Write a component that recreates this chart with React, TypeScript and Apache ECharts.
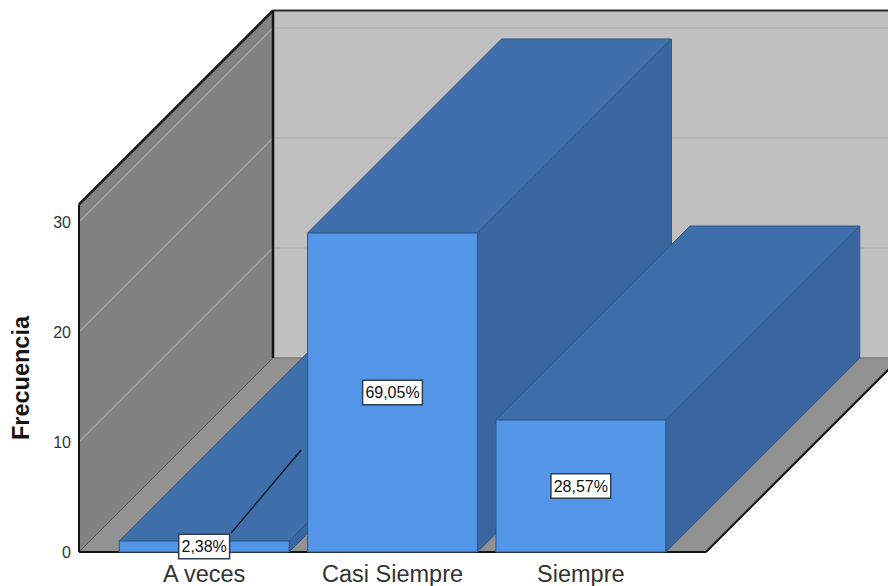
import React, { useEffect, useRef } from "react";
import * as echarts from "echarts";

const categories = ["A veces", "Casi Siempre", "Siempre"];
const frequencies = [1, 29, 12];
const percentLabels = ["2,38%", "69,05%", "28,57%"];
const gridValues = [10, 20, 30];
const wallTopValue = 31.6;

const DEPTH = 194;
const FLOOR_OVERHANG = 31;
const FONT = '"Liberation Sans", Arial, sans-serif';
const INK = "#141414";

const COLORS = {
  backWall: "#c0c0c0",
  sideWall: "#828282",
  floor: "#929292",
  front: "#5395e6",
  top: "#3e6fab",
  side: "#39669e",
  edge: "#2f5787",
};

const line = (a: number[], b: number[], stroke: string, lineWidth: number) => ({
  type: "line",
  silent: true,
  shape: { x1: a[0], y1: a[1], x2: b[0], y2: b[1] },
  style: { stroke, lineWidth, fill: "none" },
});

const poly = (points: number[][], fill: string, stroke = "none", lineWidth = 0) => ({
  type: "polygon",
  silent: true,
  shape: { points },
  style: { fill, stroke, lineWidth },
});

const back = (p: number[]) => [p[0] + DEPTH, p[1] - DEPTH];

// Walls, floor and gridlines of the box that holds the bars.
function renderFrame(_: any, api: any) {
  const band = api.size([1, 0])[0];
  const left = api.coord([0, 0])[0] - band / 2 - FLOOR_OVERHANG;
  const right = api.coord([2, 0])[0] + band / 2 + FLOOR_OVERHANG;
  const y0 = api.coord([0, 0])[1];
  const yTop = api.coord([0, wallTopValue])[1];
  const fl = [left, y0];
  const fr = [right, y0];
  const tl = [left, yTop];
  const children: any[] = [
    poly([back(tl), [1000, back(tl)[1]], [1000, back(fl)[1]], back(fl)], COLORS.backWall),
    poly([fl, tl, back(tl), back(fl)], COLORS.sideWall),
    poly([fl, fr, back(fr), back(fl)], COLORS.floor),
  ];
  gridValues.forEach((v) => {
    const p = [left, api.coord([0, v])[1]];
    children.push(line(back(p), [1000, back(p)[1]], "#b4b4b4", 1.5));
    children.push(line(p, back(p), "#a2a2a2", 1.5));
  });
  children.push(line(fl, back(fl), "#5c5c5c", 1));
  children.push(line(back(fl), [1000, back(fl)[1]], "#7a7a7a", 1.5));
  children.push(line(back(fl), back(tl), INK, 2.5));
  children.push(line(fl, tl, INK, 2));
  children.push(line(tl, back(tl), INK, 2.5));
  children.push(line(back(tl), [1000, back(tl)[1]], "#2a2a2a", 2));
  children.push(line(fl, fr, INK, 2));
  children.push(line(fr, back(fr), INK, 2));
  return { type: "group", children };
}

// One extruded bar: top and side faces first, the front face over them.
function renderBar(_: any, api: any) {
  const idx = api.value(0);
  const val = api.value(1);
  const half = (api.size([1, 0])[0] * 0.902) / 2;
  const [cx, yTop] = api.coord([idx, val]);
  const y0 = api.coord([idx, 0])[1];
  const tl = [cx - half, yTop];
  const tr = [cx + half, yTop];
  const bl = [cx - half, y0];
  const br = [cx + half, y0];
  const children: any[] = [
    poly([tl, tr, back(tr), back(tl)], COLORS.top, COLORS.edge, 1),
    poly([tr, br, back(br), back(tr)], COLORS.side, COLORS.edge, 1),
    poly([tl, tr, br, bl], COLORS.front, COLORS.edge, 1),
  ];
  // A bar too short to hold its label gets a leader line above its top face.
  if (val < 2) {
    children.push(line([cx + 27, yTop - 8], [cx + 97, yTop - 91], "#10202f", 1.5));
  }
  return { type: "group", children };
}

export default function App() {
  const ref = useRef<HTMLDivElement>(null);

  useEffect(() => {
    if (!ref.current) return;
    const chart = echarts.init(ref.current, undefined, { renderer: "svg" });
    chart.setOption({
      animation: false,
      backgroundColor: "#ffffff",
      textStyle: { fontFamily: FONT },
      grid: { left: 110, width: 565, top: 222, bottom: 34, outerBoundsMode: "none" },
      xAxis: {
        type: "category",
        data: categories,
        axisLine: { show: false },
        axisTick: { show: false },
        axisLabel: { color: "#333333", fontSize: 23.5, fontFamily: FONT, margin: 10 },
      },
      yAxis: {
        type: "value",
        min: 0,
        max: 30,
        interval: 10,
        offset: 31,
        name: "Frecuencia",
        nameLocation: "middle",
        nameGap: 46,
        nameTextStyle: {
          color: INK,
          fontSize: 23.5,
          fontWeight: "bold",
          fontFamily: FONT,
          padding: [0, 0, 0, 18],
        },
        axisLine: { show: false },
        axisTick: { show: false },
        splitLine: { show: false },
        axisLabel: {
          color: "#333333",
          fontSize: 16,
          fontFamily: FONT,
          margin: 8,
          padding: [6, 0, 0, 0],
        },
      },
      series: [
        {
          type: "custom",
          z: 1,
          silent: true,
          data: [[0, 0]],
          renderItem: renderFrame,
        },
        {
          type: "custom",
          z: 2,
          silent: true,
          data: frequencies.map((v, i) => [i, v]),
          renderItem: renderBar,
        },
        {
          type: "scatter",
          z: 5,
          silent: true,
          symbolSize: 0,
          itemStyle: { opacity: 1 },
          data: frequencies.map((v, i) => [i, v / 2]),
          label: {
            show: true,
            position: "inside",
            formatter: (p: any) => percentLabels[p.dataIndex],
            color: "#111111",
            fontSize: 16,
            fontFamily: FONT,
            backgroundColor: "#ffffff",
            borderColor: "#30404e",
            borderWidth: 1.5,
            padding: [4, 2, 3, 2],
          },
        },
      ],
    });
    return () => chart.dispose();
  }, []);

  return (
    <div
      ref={ref}
      style={{ position: "fixed", left: 0, top: 0, width: 888, height: 586 }}
    />
  );
}
